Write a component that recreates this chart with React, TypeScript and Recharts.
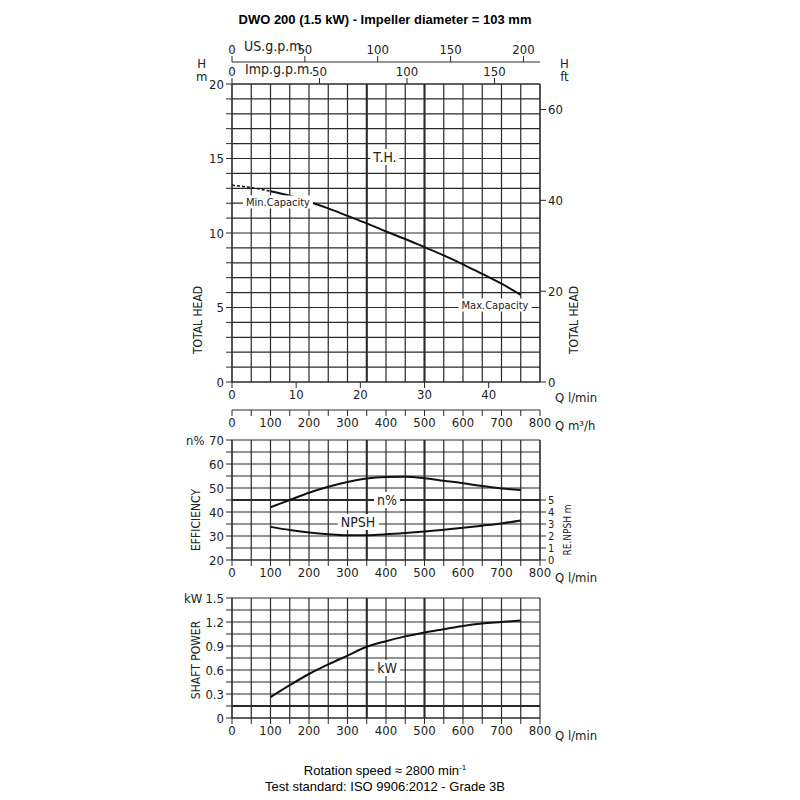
import React from "react";
import {
  LineChart,
  Line,
  XAxis,
  YAxis,
  CartesianGrid,
  ReferenceLine,
} from "recharts";

const qDashed = [0, 50, 100];
const headDashed = [13.2, 13.05, 12.8];
const qHead = [100, 150, 200, 250, 300, 350, 400, 450, 500, 550, 600, 650, 700, 750];
const head = [12.8, 12.5, 12.1, 11.65, 11.15, 10.65, 10.1, 9.6, 9.05, 8.5, 7.9, 7.25, 6.6, 5.85];
const qEff = [100, 150, 200, 250, 300, 350, 400, 450, 500, 550, 600, 650, 700, 750];
const efficiency = [42, 45, 48, 50.5, 52.5, 54, 54.6, 54.7, 54.1, 53, 52, 50.8, 49.8, 49.2];
const npsh = [2.76, 2.5, 2.3, 2.15, 2.06, 2.07, 2.14, 2.25, 2.38, 2.52, 2.68, 2.86, 3.05, 3.3];
const power = [0.26, 0.41, 0.55, 0.67, 0.78, 0.89, 0.96, 1.02, 1.07, 1.11, 1.15, 1.18, 1.2, 1.22];

const qTicks = [0, 50, 100, 150, 200, 250, 300, 350, 400, 450, 500, 550, 600, 650, 700, 750, 800];
const headTicks = Array.from({ length: 21 }, (_, i) => i);
const ftTicks = [0, 20, 40, 60];
const usTicks = [0, 50, 100, 150, 200];
const impTicks = [0, 50, 100, 150];
const m3Ticks = [0, 10, 20, 30, 40];
const effTicks = [20, 25, 30, 35, 40, 45, 50, 55, 60, 65, 70];
const npshTicks = [0, 1, 2, 3, 4, 5];
const kwTicks = [0, 0.15, 0.3, 0.45, 0.6, 0.75, 0.9, 1.05, 1.2, 1.35, 1.5];

const US_GAL = 3.785;
const IMP_GAL = 4.546;
const M3H = 1000 / 60;

const FONT = "'DejaVu Sans Condensed', 'Liberation Sans Narrow', sans-serif";
const GRID = "#2a2a2a";
const tick = { fill: "#222", fontSize: 13, fontFamily: FONT };
const qFmt = (v: number) => (v % 100 === 0 ? String(v) : "");

const zip = (xs: number[], ys: number[], key: string) =>
  xs.map((q, i) => ({ q, [key]: ys[i] }));

function Txt({ x, y, children, size = 13, rot = false, bg = false, anchor = "left", style = {} }: any) {
  return (
    <div
      style={{
        position: "absolute",
        left: x,
        top: y,
        fontFamily: FONT,
        fontSize: size,
        color: "#222",
        whiteSpace: "nowrap",
        background: bg ? "#fff" : "transparent",
        padding: bg ? "0 3px" : 0,
        transform: rot ? "translate(-50%,-50%) rotate(-90deg)" : anchor === "center" ? "translate(-50%,-50%)" : "translateY(-50%)",
        ...style,
      }}
    >
      {children}
    </div>
  );
}

export default function App() {
  const headData = zip(qHead, head, "h");
  const dashData = zip(qDashed, headDashed, "h");
  const effData = qEff.map((q, i) => ({ q, eff: efficiency[i], npsh: npsh[i], kw: power[i] }));

  return (
    <div style={{ position: "relative", width: 800, height: 800, background: "#fff", overflow: "hidden", margin: -8 }}>
      <div style={{ position: "absolute", top: 12, width: 770, textAlign: "center", fontFamily: "'Liberation Sans', Arial, sans-serif", fontWeight: "bold", fontSize: 13 }}>
        DWO 200 (1.5 kW) - Impeller diameter = 103 mm
      </div>

      {/* head chart */}
      <div style={{ position: "absolute", left: 0, top: 0 }}>
        <LineChart width={800} height={440} margin={{ top: 36, right: 220, left: 192, bottom: 2 }}>
          <CartesianGrid xAxisId="q" yAxisId="m" stroke={GRID} strokeWidth={1.2} />
          <XAxis xAxisId="q" dataKey="q" type="number" domain={[0, 800]} ticks={qTicks} interval={0} tickFormatter={qFmt} tick={tick} stroke={GRID} height={28} />
          <XAxis xAxisId="m3" dataKey="q" type="number" domain={[0, 800]} ticks={m3Ticks.map((v) => v * M3H)} interval={0} tickFormatter={(v: number) => String(Math.round(v / M3H))} tick={tick} stroke={GRID} height={28} />
          <XAxis xAxisId="imp" dataKey="q" orientation="top" type="number" domain={[0, 800]} ticks={impTicks.map((v) => v * IMP_GAL)} interval={0} tickFormatter={(v: number) => String(Math.round(v / IMP_GAL))} tick={tick} stroke={GRID} height={22} />
          <XAxis xAxisId="us" dataKey="q" orientation="top" type="number" domain={[0, 800]} ticks={usTicks.map((v) => v * US_GAL)} interval={0} tickFormatter={(v: number) => String(Math.round(v / US_GAL))} tick={tick} stroke={GRID} height={26} />
          <YAxis yAxisId="m" domain={[0, 20]} ticks={headTicks} interval={0} tickFormatter={(v: number) => (v % 5 === 0 ? String(v) : "")} tick={tick} stroke={GRID} width={40} />
          <YAxis yAxisId="ft" orientation="right" domain={[0, 20 * 3.281]} ticks={ftTicks} interval={0} tick={tick} stroke={GRID} width={40} />
          <ReferenceLine xAxisId="q" yAxisId="m" x={350} stroke={GRID} strokeWidth={2} />
          <ReferenceLine xAxisId="q" yAxisId="m" x={500} stroke={GRID} strokeWidth={2} />
          {/* invisible helpers so the secondary axes get their ticks */}
          <Line xAxisId="m3" yAxisId="ft" data={headData} dataKey="h" stroke="none" dot={false} isAnimationActive={false} />
          <Line xAxisId="imp" yAxisId="ft" data={headData} dataKey="h" stroke="none" dot={false} isAnimationActive={false} />
          <Line xAxisId="us" yAxisId="ft" data={headData} dataKey="h" stroke="none" dot={false} isAnimationActive={false} />
          <Line xAxisId="q" yAxisId="m" data={dashData} dataKey="h" stroke="#111" strokeWidth={1.5} strokeDasharray="3 2" dot={false} type="monotone" isAnimationActive={false} />
          <Line xAxisId="q" yAxisId="m" data={headData} dataKey="h" stroke="#111" strokeWidth={2} dot={false} type="monotone" isAnimationActive={false} />
        </LineChart>
      </div>

      {/* efficiency / NPSH chart */}
      <div style={{ position: "absolute", left: 0, top: 430 }}>
        <LineChart width={800} height={160} data={effData} margin={{ top: 10, right: 220, left: 192, bottom: 2 }}>
          <CartesianGrid yAxisId="e" stroke={GRID} strokeWidth={1.2} />
          <XAxis dataKey="q" type="number" domain={[0, 800]} ticks={qTicks} interval={0} tickFormatter={qFmt} tick={tick} stroke={GRID} height={28} />
          <YAxis yAxisId="e" domain={[20, 70]} ticks={effTicks} interval={0} tickFormatter={(v: number) => (v % 10 === 0 ? String(v) : "")} tick={tick} stroke={GRID} width={40} />
          <YAxis yAxisId="n" orientation="right" domain={[0, 10]} ticks={npshTicks} interval={0} tick={{ ...tick, fontSize: 11 }} stroke={GRID} width={40} />
          <ReferenceLine yAxisId="e" y={45} stroke={GRID} strokeWidth={2} />
          <ReferenceLine yAxisId="e" x={350} stroke={GRID} strokeWidth={2} />
          <ReferenceLine yAxisId="e" x={500} stroke={GRID} strokeWidth={2} />
          <Line yAxisId="e" dataKey="eff" stroke="#111" strokeWidth={2} dot={false} type="monotone" isAnimationActive={false} />
          <Line yAxisId="n" dataKey="npsh" stroke="#111" strokeWidth={2} dot={false} type="monotone" isAnimationActive={false} />
        </LineChart>
      </div>

      {/* shaft power chart */}
      <div style={{ position: "absolute", left: 0, top: 588 }}>
        <LineChart width={800} height={160} data={effData} margin={{ top: 10, right: 220, left: 192, bottom: 2 }}>
          <CartesianGrid yAxisId="k" stroke={GRID} strokeWidth={1.2} />
          <XAxis dataKey="q" type="number" domain={[0, 800]} ticks={qTicks} interval={0} tickFormatter={qFmt} tick={tick} stroke={GRID} height={28} />
          <YAxis yAxisId="k" domain={[0, 1.5]} ticks={kwTicks} interval={0} tickFormatter={(v: number) => (Math.round(v * 100) % 30 === 0 ? (v === 0 ? "0" : v.toFixed(1)) : "")} tick={tick} stroke={GRID} width={40} />
          <YAxis yAxisId="r" orientation="right" domain={[0, 1.5]} tick={false} axisLine={false} width={40} />
          <ReferenceLine yAxisId="k" y={0.15} stroke={GRID} strokeWidth={2} />
          <ReferenceLine yAxisId="k" x={350} stroke={GRID} strokeWidth={2} />
          <ReferenceLine yAxisId="k" x={500} stroke={GRID} strokeWidth={2} />
          <Line yAxisId="k" dataKey="kw" stroke="#111" strokeWidth={2} dot={false} type="monotone" isAnimationActive={false} />
        </LineChart>
      </div>

      {/* annotations */}
      <Txt x={244} y={46} size={14}>US.g.p.m.</Txt>
      <Txt x={245} y={69} size={14}>Imp.g.p.m.</Txt>
      <Txt x={196} y={70} size={13} style={{ lineHeight: "13px", textAlign: "center" }}>H<br />m</Txt>
      <Txt x={560} y={70} size={13} style={{ lineHeight: "13px", textAlign: "center" }}>H<br />ft</Txt>
      <Txt x={385} y={157} size={14} bg anchor="center">T.H.</Txt>
      <Txt x={278} y={202} size={11} bg anchor="center">Min.Capacity</Txt>
      <Txt x={495} y={305} size={11} bg anchor="center">Max.Capacity</Txt>
      <Txt x={198} y={320} rot size={12}>TOTAL HEAD</Txt>
      <Txt x={574} y={320} rot size={12}>TOTAL HEAD</Txt>
      <Txt x={555} y={397} size={13}>Q l/min</Txt>
      <Txt x={555} y={425} size={13}>Q m³/h</Txt>
      <Txt x={186} y={440} size={13}>n%</Txt>
      <Txt x={387} y={500} size={14} bg anchor="center">n%</Txt>
      <Txt x={358} y={522} size={14} bg anchor="center">NPSH</Txt>
      <Txt x={196} y={520} rot size={12}>EFFICIENCY</Txt>
      <Txt x={567} y={530} rot size={10}>RE.NPSH m</Txt>
      <Txt x={555} y={577} size={13}>Q l/min</Txt>
      <Txt x={184} y={598} size={13}>kW</Txt>
      <Txt x={387} y={668} size={14} bg anchor="center">kW</Txt>
      <Txt x={196} y={660} rot size={12}>SHAFT POWER</Txt>
      <Txt x={555} y={735} size={13}>Q l/min</Txt>
      <div style={{ position: "absolute", top: 760, width: 770, textAlign: "center", fontFamily: "'Liberation Sans', Arial, sans-serif", fontSize: 13, lineHeight: "16px" }}>
        Rotation speed ≈ 2800 min<sup style={{ fontSize: 8 }}>-1</sup>
        <br />
        Test standard: ISO 9906:2012 - Grade 3B
      </div>
    </div>
  );
}
